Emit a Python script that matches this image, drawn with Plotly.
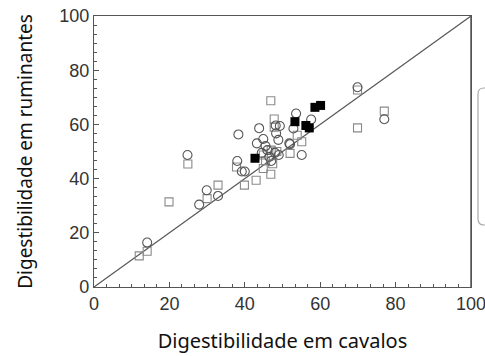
import plotly.graph_objects as go

# Open circles
circ_x = [14.1, 27.9, 29.9, 32.9, 24.8, 38.3, 38.0, 39.2, 40.0, 43.8, 43.2, 44.9, 48.2, 49.3,
          48.3, 48.9, 51.8, 44.5, 46.0, 46.5, 48.0, 49.0, 53.6, 57.6, 52.9, 52.0, 55.1, 69.9,
          77.0, 45.5, 47.0]
circ_y = [16.4, 30.4, 35.7, 33.6, 48.7, 56.3, 46.5, 42.6, 42.6, 58.6, 53.0, 54.6, 59.6, 59.4,
          56.7, 54.3, 53.0, 49.5, 50.5, 48.0, 49.5, 48.7, 64.0, 61.8, 58.5, 52.7, 48.7, 73.7,
          61.9, 52.0, 46.5]

# Open gray squares
sq_x = [12.0, 14.1, 19.9, 24.9, 30.0, 32.9, 39.9, 37.8, 43.0, 46.9, 44.9, 46.9, 47.8, 47.8,
        69.9, 77.0, 69.9, 55.1, 53.9, 52.0, 44.9, 45.5, 47.0, 48.5, 47.4]
sq_y = [11.5, 13.2, 31.4, 45.4, 32.6, 37.6, 37.6, 44.3, 39.4, 41.6, 43.7, 68.7, 62.0, 59.0,
        72.7, 64.9, 58.7, 53.6, 56.0, 49.3, 48.7, 46.5, 50.5, 50.0, 45.5]

# Filled black squares
fill_x = [42.7, 53.3, 56.2, 57.1, 58.6, 60.1]
fill_y = [47.5, 61.0, 59.6, 58.7, 66.3, 67.0]

# Identity line
line_x = [0, 100]
line_y = [0, 100]

x_title = "Digestibilidade em cavalos"
y_title = "Digestibilidade em ruminantes"
tick_vals = [0, 20, 40, 60, 80, 100]
minor_vals = [round(i * 10 / 3, 3) for i in range(1, 30) if i % 6 != 0]

fig = go.Figure()
fig.add_trace(go.Scatter(x=line_x, y=line_y, mode="lines",
                         line=dict(color="#555555", width=1.2), showlegend=False,
                         hoverinfo="skip"))
fig.add_trace(go.Scatter(x=sq_x, y=sq_y, mode="markers", showlegend=False,
                         marker=dict(symbol="square-open", size=8,
                                     color="#8a8a8a", line=dict(width=1.1))))
fig.add_trace(go.Scatter(x=circ_x, y=circ_y, mode="markers", showlegend=False,
                         marker=dict(symbol="circle-open", size=9,
                                     color="#555555", line=dict(width=1.1))))
fig.add_trace(go.Scatter(x=fill_x, y=fill_y, mode="markers", showlegend=False,
                         marker=dict(symbol="square", size=9, color="#000000")))

axis_common = dict(
    range=[0, 100], tickvals=tick_vals, ticktext=[str(v) for v in tick_vals],
    ticks="inside", ticklen=5, tickwidth=1, ticklabeloverflow="allow",
    tickcolor="#555555", showgrid=False, zeroline=False, showline=True,
    linecolor="#555555", linewidth=1.3, mirror=True, automargin=False,
    tickfont=dict(family="Liberation Sans, Arial, sans-serif", size=18, color="#333333"),
    minor=dict(tickvals=minor_vals, ticks="inside", ticklen=3, tickcolor="#555555",
               showgrid=False),
)

fig.update_xaxes(**axis_common,
                 title=dict(text=x_title, standoff=21,
                            font=dict(family="Noto Sans, sans-serif", size=20,
                                      color="#111111")))
fig.update_yaxes(**axis_common,
                 title=dict(text=y_title, standoff=21,
                            font=dict(family="Noto Sans, sans-serif", size=19,
                                      color="#111111")))

W, H = 485, 356
ml, mr, mt, mb = 94, 14, 16, 69
pw, ph = W - ml - mr, H - mt - mb

def px2paper(px, py):
    return (px - ml) / pw, (H - mb - py) / ph

# Right frame edge
fig.add_shape(type="line", xref="paper", yref="paper", x0=1, y0=0, x1=1, y1=1,
              line=dict(color="#555555", width=1.5), layer="above")

# Clipped legend frame at right edge (empty box)
x0, y0 = px2paper(478, 225)
x1, y1 = px2paper(500, 88)
rx, ry = 6 / pw, 6 / ph
path = (f"M {x0+rx},{y0} L {x1},{y0} L {x1},{y1} L {x0+rx},{y1} "
        f"Q {x0},{y1} {x0},{y1-ry} L {x0},{y0+ry} Q {x0},{y0} {x0+rx},{y0} Z")
fig.add_shape(type="path", path=path, xref="paper", yref="paper",
              line=dict(color="#a8a8a8", width=1.2), fillcolor="rgba(0,0,0,0)",
              layer="above")

fig.update_layout(width=W, height=H, margin=dict(l=ml, r=mr, t=mt, b=mb, autoexpand=False),
                  plot_bgcolor="white", paper_bgcolor="white")

fig.write_html("out.html", config={"displayModeBar": False},
               post_script="document.body.style.margin='0';document.body.style.overflow='hidden';")
